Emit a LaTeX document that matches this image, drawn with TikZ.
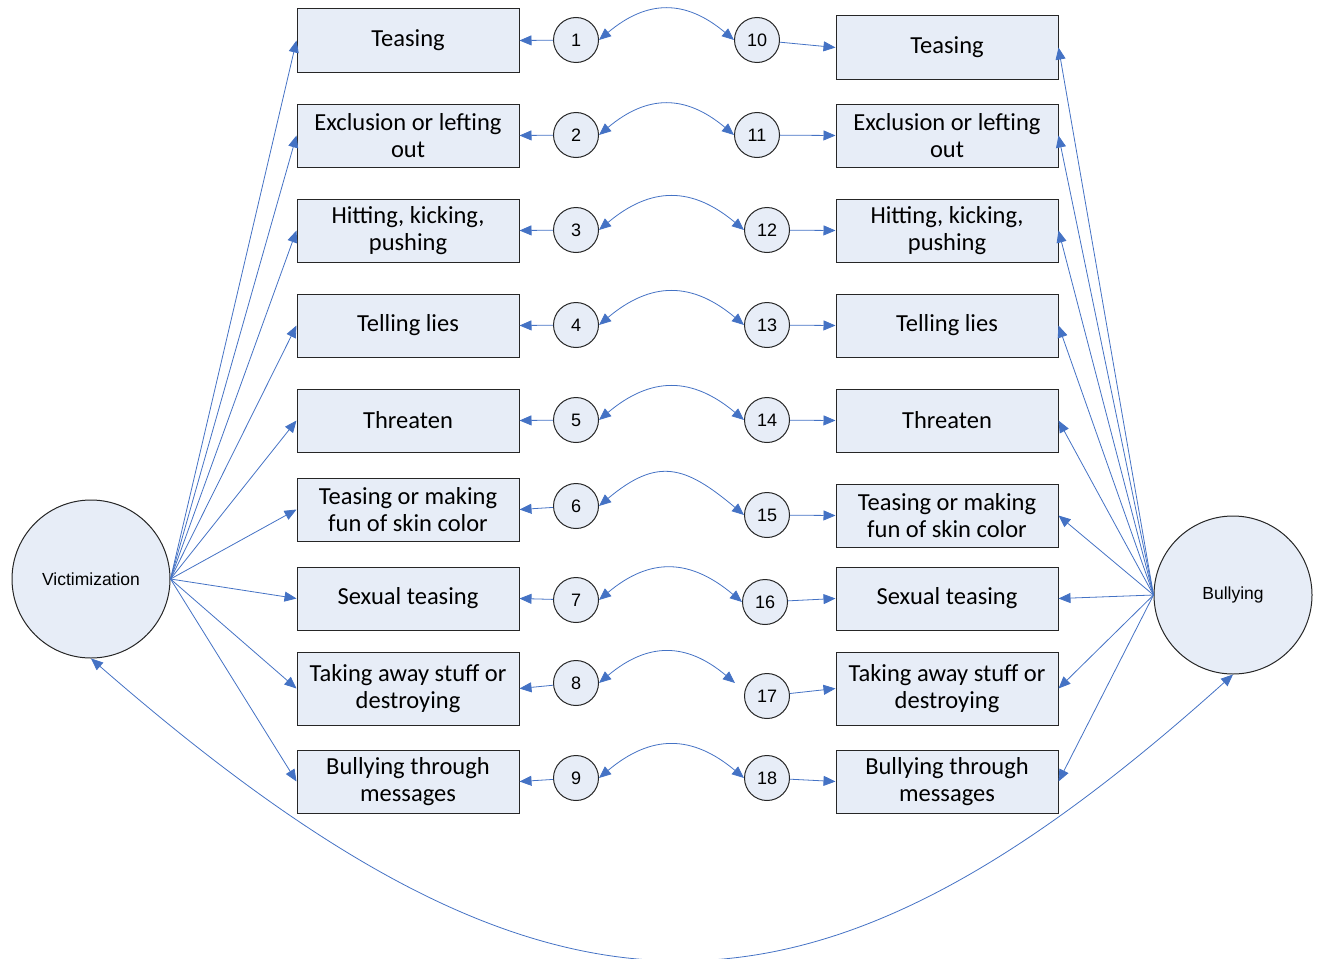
\documentclass[tikz,border=0pt]{standalone}
\usepackage{fontspec}
\setmainfont{Carlito}
\newfontfamily\arialf{Liberation Sans}
\usetikzlibrary{arrows.meta}
\definecolor{boxfill}{HTML}{E7EDF7}
\definecolor{arrowblue}{HTML}{4472C4}
\begin{document}
\begin{tikzpicture}[x=1pt,y=1pt,
  box/.style={draw=black!85, line width=1pt, fill=boxfill, minimum width=222pt, minimum height=63pt, inner sep=0pt, align=center, font=\fontsize{24.5}{27.5}\selectfont},
  num/.style={circle, draw=black!85, line width=1pt, fill=boxfill, minimum size=45pt, inner sep=0pt, font=\arialf\fontsize{18}{20}\selectfont},
  latent/.style={circle, draw=black!85, line width=1pt, fill=boxfill, minimum size=158pt, inner sep=0pt, font=\arialf\fontsize{17.5}{20}\selectfont},
  arr/.style={draw=arrowblue, line width=0.8pt, -{Triangle[length=12pt,width=10pt]}},
  dbl/.style={draw=arrowblue, line width=0.8pt, {Triangle[length=12pt,width=10pt]}-{Triangle[length=12pt,width=10pt]}},
  hump/.style={dbl, out=40, in=140, looseness=1.2}
]
\useasboundingbox (0,0) rectangle (1321,-958);

% latent variables
\node[latent] (V) at (91,-579) {Victimization};
\node[latent] (B) at (1233,-595) {Bullying};

% left boxes
\node[box] (L1) at (408,-40.5) {Teasing};
\node[box] (L2) at (408,-135.5) {Exclusion or lefting\\out};
\node[box] (L3) at (408,-230.5) {Hitting, kicking,\\pushing};
\node[box] (L4) at (408,-325.5) {Telling lies};
\node[box] (L5) at (408,-420.5) {Threaten};
\node[box] (L6) at (408,-509.5) {Teasing or making\\fun of skin color};
\node[box] (L7) at (408,-598.5) {Sexual teasing};
\node[box, minimum height=73pt] (L8) at (408,-688.5) {Taking away stuff or\\destroying};
\node[box] (L9) at (408,-781.5) {Bullying through\\messages};

% right boxes
\node[box] (R1) at (947,-47.5) {Teasing};
\node[box] (R2) at (947,-135.5) {Exclusion or lefting\\out};
\node[box] (R3) at (947,-230.5) {Hitting, kicking,\\pushing};
\node[box] (R4) at (947,-325.5) {Telling lies};
\node[box] (R5) at (947,-420.5) {Threaten};
\node[box] (R6) at (947,-515.5) {Teasing or making\\fun of skin color};
\node[box] (R7) at (947,-598.5) {Sexual teasing};
\node[box, minimum height=73pt] (R8) at (947,-688.5) {Taking away stuff or\\destroying};
\node[box] (R9) at (947,-781.5) {Bullying through\\messages};

% left numbered circles
\node[num] (c1) at (576,-40) {1};
\node[num] (c2) at (576,-135) {2};
\node[num] (c3) at (576,-230) {3};
\node[num] (c4) at (576,-325) {4};
\node[num] (c5) at (576,-420) {5};
\node[num] (c6) at (576,-506) {6};
\node[num] (c7) at (576,-600) {7};
\node[num] (c8) at (576,-683) {8};
\node[num] (c9) at (576,-778) {9};

% right numbered circles
\node[num] (c10) at (757,-40) {10};
\node[num] (c11) at (757,-135) {11};
\node[num] (c12) at (767,-230) {12};
\node[num] (c13) at (767,-325) {13};
\node[num] (c14) at (767,-420) {14};
\node[num] (c15) at (767,-515) {15};
\node[num] (c16) at (765,-602) {16};
\node[num] (c17) at (767,-696) {17};
\node[num] (c18) at (767,-778) {18};
\coordinate (e17) at (735,-683);

% circles to boxes
\foreach \i in {1,...,9} {
  \draw[arr] (c\i) -- (L\i.east);
}
\foreach \i/\j in {10/1,11/2,12/3,13/4,14/5,15/6,16/7,17/8,18/9} {
  \draw[arr] (c\i) -- (R\j.west);
}

% humps between circles
\draw[hump] (c1.east) to (c10.west);
\draw[hump] (c2.east) to (c11.west);
\draw[hump] (c3.east) to (c12.west);
\draw[hump] (c4.east) to (c13.west);
\draw[hump] (c5.east) to (c14.west);
\draw[hump, looseness=1.35] (c6.east) to (c15.west);
\draw[hump] (c7.east) to (c16.west);
\draw[hump] (c8.east) to (e17);
\draw[hump] (c9.east) to (c18.west);

% fan from Victimization
\foreach \i in {1,...,9} {
  \draw[arr] (V.east) -- (L\i.west);
}
% fan from Bullying
\foreach \i in {1,...,9} {
  \draw[arr] (B.west) -- (R\i.east);
}

% bottom covariance
\draw[dbl] (V.south) .. controls (555,-1063) and (815,-1050) .. (B.south);
\end{tikzpicture}
\end{document}
